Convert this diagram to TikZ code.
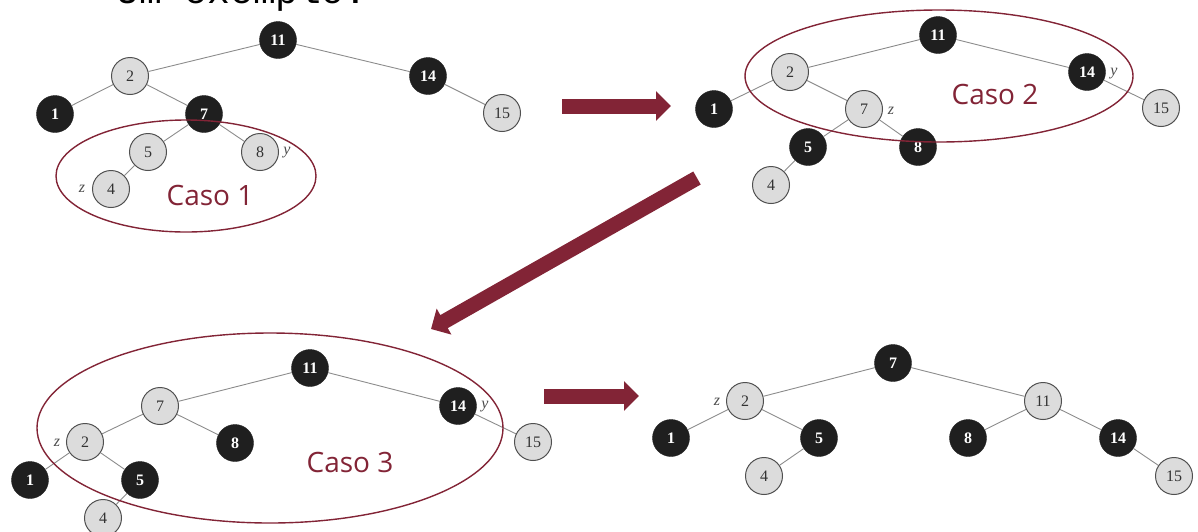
\documentclass[tikz,border=0pt]{standalone}
\usepackage{fontspec}
\setmainfont{Liberation Serif}
\newfontfamily\casofont{Open Sans}
\newfontfamily\titlefont{Liberation Mono}
\usetikzlibrary{arrows.meta}
\definecolor{maroon}{RGB}{130,36,54}
\definecolor{nodegray}{RGB}{220,220,220}
\definecolor{edgegray}{RGB}{140,140,140}
\definecolor{rimgray}{RGB}{80,80,80}
\tikzset{
  bnode/.style={circle, minimum size=37pt, inner sep=0pt, fill=black!88, draw=black!88,
    text=white, font=\fontsize{16}{16}\selectfont\bfseries},
  gnode/.style={circle, minimum size=37pt, inner sep=0pt, fill=nodegray, draw=rimgray,
    line width=1pt, text=black!80, font=\fontsize{16}{16}\selectfont},
  edge/.style={draw=edgegray, line width=0.9pt},
  lab/.style={font=\fontsize{16}{16}\selectfont\itshape, text=black!70},
  caso/.style={font=\casofont\fontsize{28}{28}\selectfont, text=maroon},
  ring/.style={draw=maroon, line width=1.4pt},
  bigarrow/.style={draw=maroon, line width=15pt, -{Triangle[length=15pt,width=29pt]}}
}
\begin{document}
\begin{tikzpicture}[x=1pt,y=-1pt]
\useasboundingbox (0,0) rectangle (1198,531);
% title (cut off at the top, as in the reference)
\node[anchor=base west, inner sep=0pt, font=\titlefont\fontsize{38}{38}\selectfont] (title) at (116,3) {Um exemplo:};

% ---------- Tree 1 ----------
\node[bnode] (a11) at (278,40) {11};
\node[gnode] (a2) at (130,76) {2};
\node[bnode] (a14) at (428,76) {14};
\node[bnode] (a1) at (55,114) {1};
\node[bnode] (a7) at (204,114) {7};
\node[gnode] (a15) at (502,113) {15};
\node[gnode] (a5) at (148,152) {5};
\node[gnode] (a8) at (260,152) {8};
\node[gnode] (a4) at (111,189) {4};
\node[lab] (ay) at (287,153) {y};
\node[lab] (az) at (82,189) {z};
\draw[edge] (a11)--(a2) (a11)--(a14) (a2)--(a1) (a2)--(a7) (a14)--(a15)
  (a7)--(a5) (a7)--(a8) (a5)--(a4);
\node[caso] (c1) at (210,195) {Caso 1};
\draw[ring] (186,176) ellipse [x radius=130, y radius=56];

% ---------- Tree 2 ----------
\node[bnode] (b11) at (938,35) {11};
\node[gnode] (b2) at (790,72) {2};
\node[bnode] (b14) at (1087,72) {14};
\node[bnode] (b1) at (714,109) {1};
\node[gnode] (b7) at (864,109) {7};
\node[gnode] (b15) at (1161,108) {15};
\node[bnode] (b5) at (808,147) {5};
\node[bnode] (b8) at (918,147) {8};
\node[gnode] (b4) at (771,185) {4};
\node[lab] (by) at (1114,74) {y};
\node[lab] (bz) at (891,111) {z};
\draw[edge] (b11)--(b2) (b11)--(b14) (b2)--(b1) (b2)--(b7) (b14)--(b15)
  (b7)--(b5) (b7)--(b8) (b5)--(b4);
\node[caso] (c2) at (995,94) {Caso 2};
\draw[ring] (939,76) ellipse [x radius=194, y radius=66];

% ---------- Tree 3 ----------
\node[bnode] (c11) at (310,368) {11};
\node[gnode] (c7) at (160,406) {7};
\node[bnode] (c14) at (458,406) {14};
\node[gnode] (c2n) at (85,442) {2};
\node[bnode] (c8) at (235,443) {8};
\node[gnode] (c15) at (533,442) {15};
\node[bnode] (c1n) at (30,480) {1};
\node[bnode] (c5) at (140,480) {5};
\node[gnode] (c4) at (103,518) {4};
\node[lab] (cy) at (485,407) {y};
\node[lab] (cz) at (57,443) {z};
\draw[edge] (c11)--(c7) (c11)--(c14) (c7)--(c2n) (c7)--(c8) (c14)--(c15)
  (c2n)--(c1n) (c2n)--(c5) (c5)--(c4);
\node[caso] (c3) at (350,462) {Caso 3};
\draw[ring] (270,428) ellipse [x radius=233, y radius=95];

% ---------- Tree 4 ----------
\node[bnode] (d7) at (893,363) {7};
\node[gnode] (d2) at (745,401) {2};
\node[gnode] (d11) at (1043,401) {11};
\node[bnode] (d1) at (671,438) {1};
\node[bnode] (d5) at (819,438) {5};
\node[bnode] (d8) at (968,438) {8};
\node[bnode] (d14) at (1118,438) {14};
\node[gnode] (d4) at (764,476) {4};
\node[gnode] (d15) at (1174,476) {15};
\node[lab] (dz) at (717,402) {z};
\draw[edge] (d7)--(d2) (d7)--(d11) (d2)--(d1) (d2)--(d5) (d5)--(d4)
  (d11)--(d8) (d11)--(d14) (d14)--(d15);

% ---------- arrows ----------
\coordinate (p1s) at (562,106);
\coordinate (p1e) at (671,106);
\coordinate (p2s) at (697,178);
\coordinate (p2e) at (431,329);
\coordinate (p3s) at (544,396);
\coordinate (p3e) at (639,396);
\draw[bigarrow] (p1s) -- (p1e);
\draw[bigarrow] (p2s) -- (p2e);
\draw[bigarrow] (p3s) -- (p3e);
\end{tikzpicture}
\end{document}
